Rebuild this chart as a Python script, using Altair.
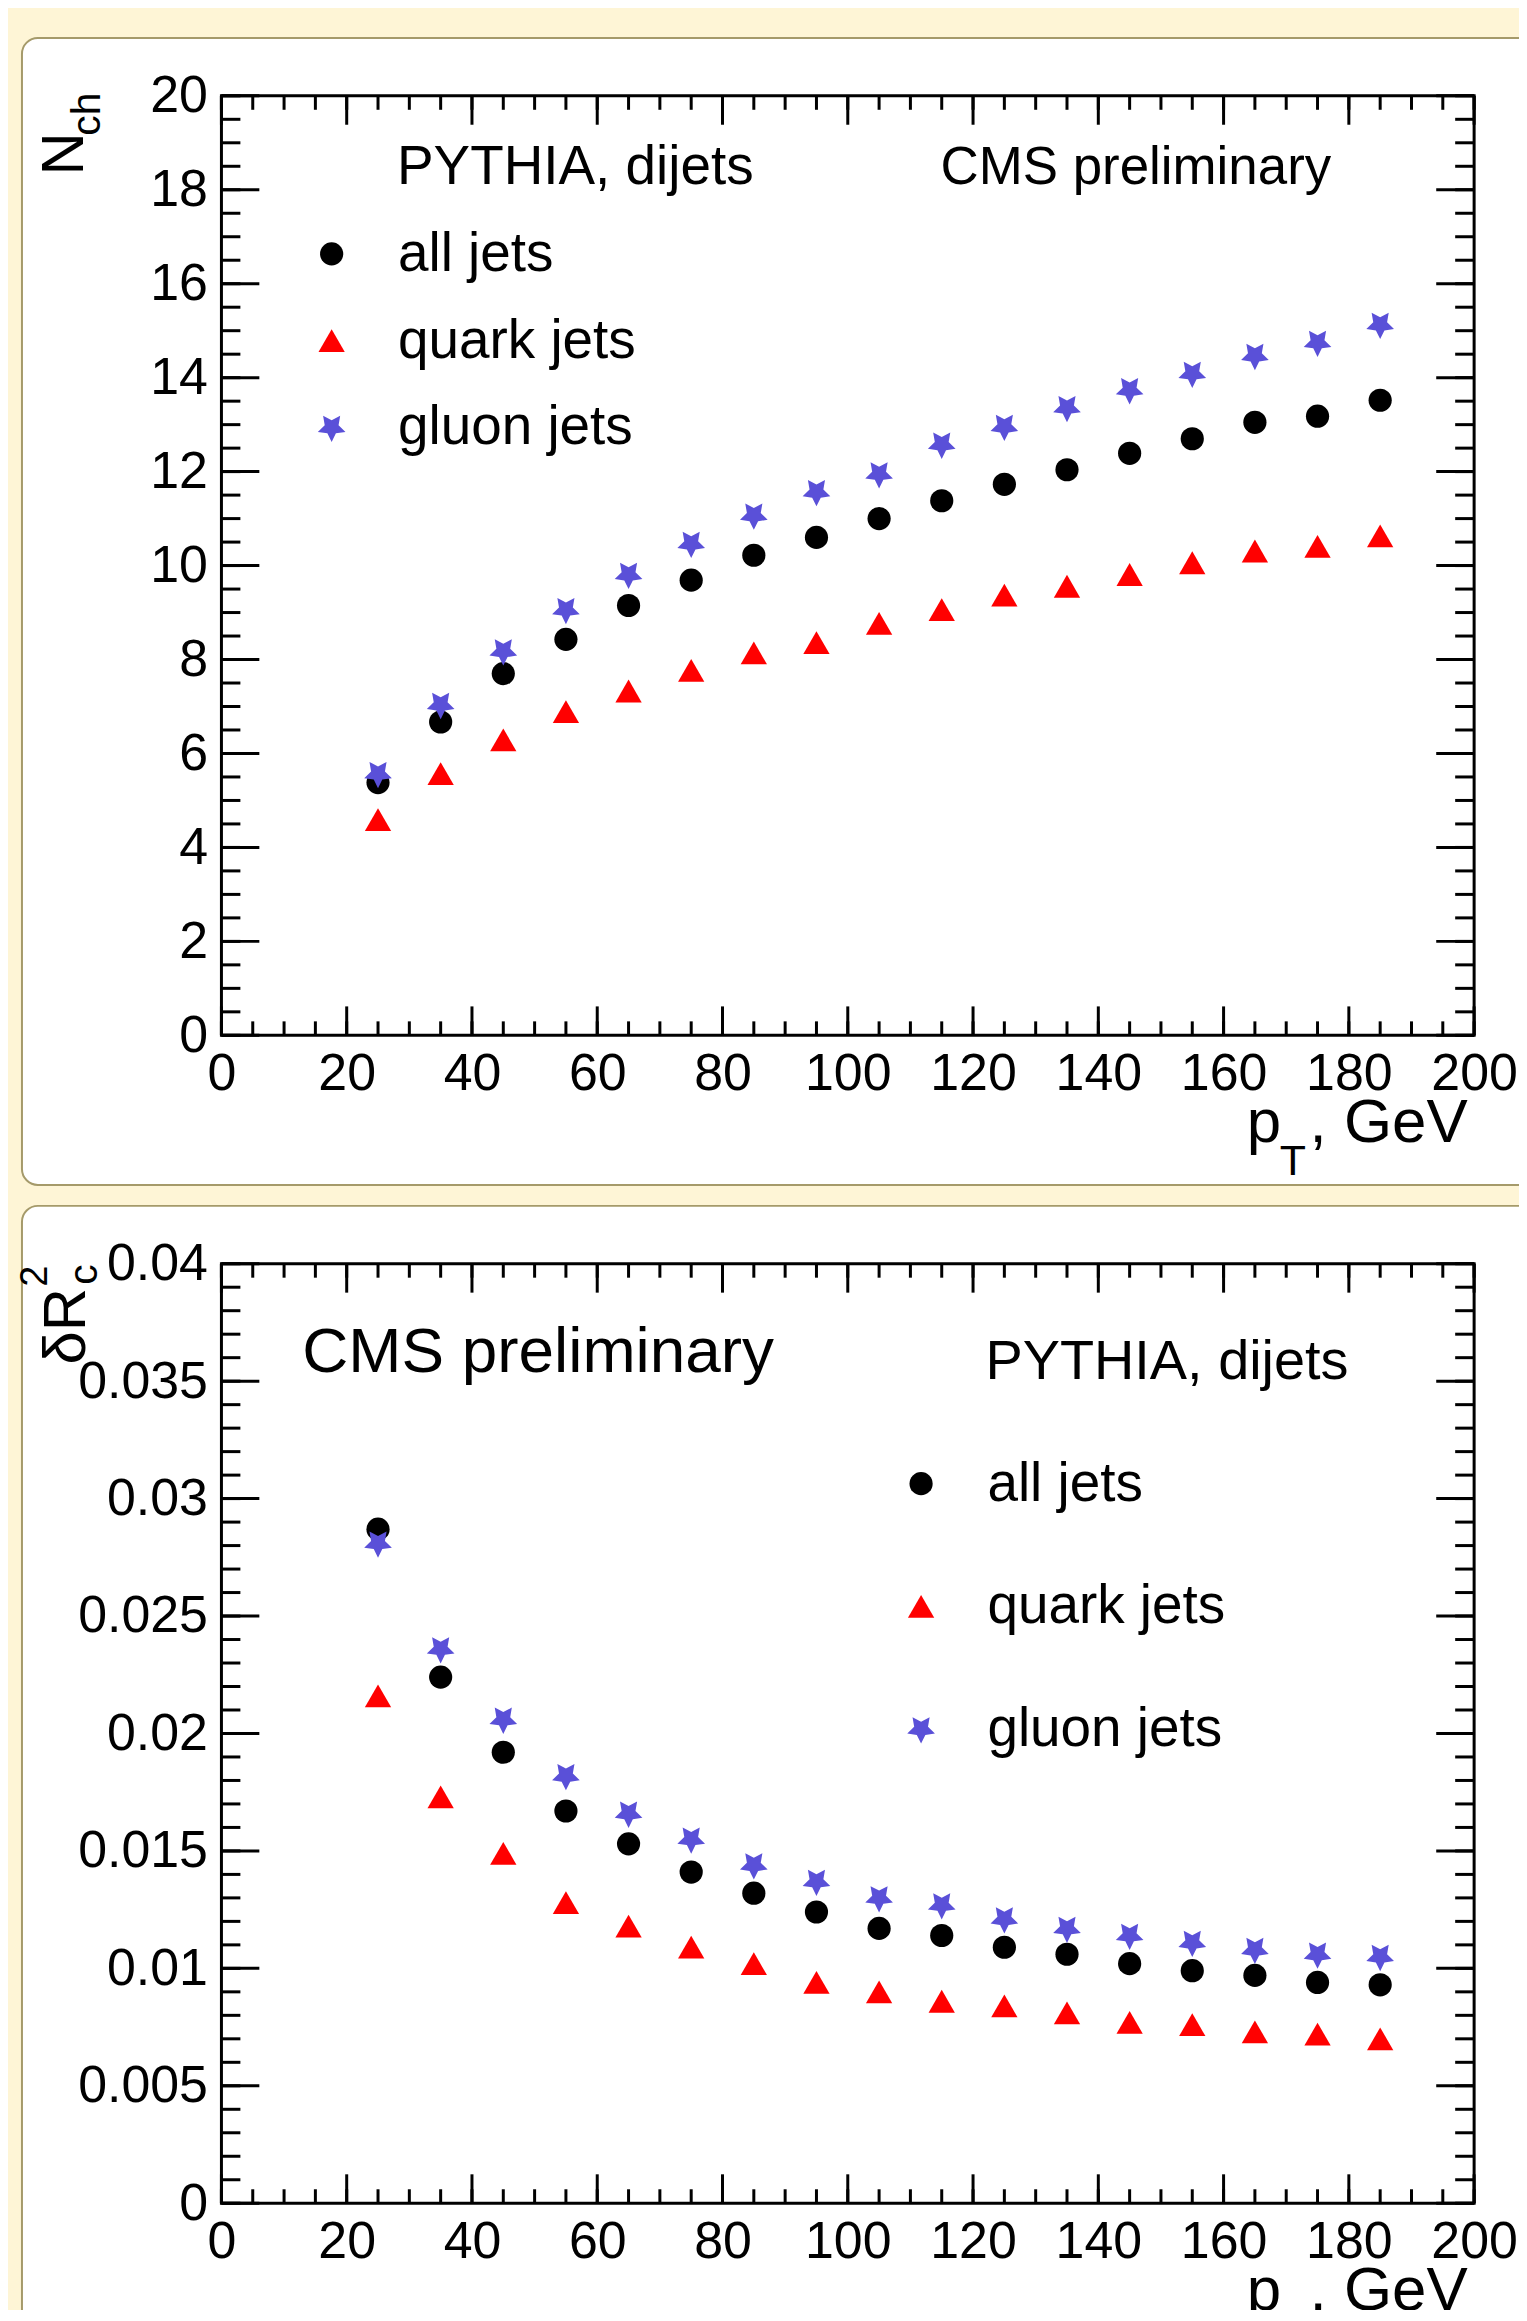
import math
import altair as alt
import pandas as pd

# ---------------- data ----------------
PT = [25, 35, 45, 55, 65, 75, 85, 95, 105, 115, 125, 135, 145, 155, 165, 175, 185]

NCH_ALL = [5.38, 6.67, 7.70, 8.43, 9.15, 9.69, 10.22, 10.60, 11.00, 11.38, 11.73, 12.04, 12.39, 12.70, 13.05, 13.18, 13.52]
NCH_QUARK = [4.59, 5.57, 6.29, 6.89, 7.33, 7.77, 8.14, 8.36, 8.77, 9.06, 9.37, 9.56, 9.81, 10.06, 10.31, 10.41, 10.63]
NCH_GLUON = [5.57, 7.04, 8.18, 9.06, 9.81, 10.47, 11.07, 11.57, 11.95, 12.58, 12.96, 13.36, 13.74, 14.09, 14.47, 14.75, 15.13]

DR_ALL = [0.0287, 0.0224, 0.0192, 0.0167, 0.0153, 0.0141, 0.0132, 0.0124, 0.0117, 0.0114, 0.0109, 0.0106, 0.0102, 0.0099, 0.0097, 0.0094, 0.0093]
DR_QUARK = [0.0216, 0.0173, 0.0149, 0.0128, 0.0118, 0.0109, 0.0102, 0.0094, 0.0090, 0.0086, 0.0084, 0.0081, 0.0077, 0.0076, 0.0073, 0.0072, 0.0070]
DR_GLUON = [0.0281, 0.0236, 0.0206, 0.0182, 0.0166, 0.0155, 0.0144, 0.0137, 0.0130, 0.0127, 0.0121, 0.0117, 0.0114, 0.0111, 0.0108, 0.0106, 0.0105]

SERIES = ["all jets", "quark jets", "gluon jets"]
COLORS = ["#000000", "#ff0000", "#5a50d8"]

X_MAJOR = [0, 20, 40, 60, 80, 100, 120, 140, 160, 180, 200]
X_MINOR = list(range(0, 201, 5))
Y1_MAJOR = [0, 2, 4, 6, 8, 10, 12, 14, 16, 18, 20]
Y1_MINOR = [i * 0.5 for i in range(41)]
Y2_MAJOR = [0, 0.005, 0.01, 0.015, 0.02, 0.025, 0.03, 0.035, 0.04]
Y2_MINOR = [round(i * 0.001, 3) for i in range(41)]

# ---------------- style / layout ----------------
FONT = "Liberation Sans"
BG = "#fef5d6"
PANEL_STROKE = "#a59a6a"
W, H = 1256, 942          # one plot frame
DY = 1171                 # vertical distance between the two frames
HT = DY + H               # total height covered by both frames


def star_path(r_in=0.5):
    pts = []
    for k in range(10):
        ang = math.radians(90 + 36 * k)
        r = 1.0 if k % 2 == 0 else r_in
        pts.append((r * math.cos(ang), r * math.sin(ang)))
    return "M" + "L".join(f"{x:.3f},{y:.3f}" for x, y in pts) + "Z"


SHAPES = ["circle", "triangle-up", star_path()]
SIZES = [540, 850, 1250]

ONE = pd.DataFrame({"k": [0]})


def long_df(a, q, g):
    rows = []
    for name, vals in zip(SERIES, [a, q, g]):
        for x, y in zip(PT, vals):
            rows.append({"x": x, "y": y, "series": name})
    return pd.DataFrame(rows)


def txt(s, x, y, size, angle=0):
    return alt.Chart(ONE).mark_text(
        text=s, align="left", baseline="alphabetic", angle=angle,
        fontSize=size, font=FONT, color="black"
    ).encode(x=alt.value(x), y=alt.value(y))


def panel(df, y0, ydom, ymajor, yminor, yfmt, legend_xy, row_pad, texts):
    xenc = alt.X("x:Q", title=None,
                 scale=alt.Scale(domain=[0, 200], range=[0, W], nice=False, zero=False),
                 axis=alt.Axis(values=X_MAJOR, orient="bottom", offset=(y0 + H) - HT,
                               ticks=False, tickSize=0, domain=False,
                               grid=False, labelFontSize=52, labelFont=FONT,
                               labelColor="black", labelPadding=13, labelFlush=False,
                               labelOverlap=False, zindex=1, format="d"))
    yenc = alt.Y("y:Q", title=None,
                 scale=alt.Scale(domain=ydom, range=[y0 + H, y0], nice=False, zero=False),
                 axis=alt.Axis(values=ymajor, orient="left", ticks=False, tickSize=0,
                               domain=False, grid=False, labelFontSize=52, labelFont=FONT,
                               labelColor="black", labelPadding=14, labelFlush=False,
                               labelOverlap=False, zindex=1, format=yfmt))

    bgrect = alt.Chart(ONE).mark_rect(
        fill="white", stroke=PANEL_STROKE, strokeWidth=2, cornerRadius=16
    ).encode(x=alt.value(-200), x2=alt.value(W + 100),
             y=alt.value(y0 - 58), y2=alt.value(y0 + H + 150))

    ymaj_df = pd.DataFrame({"y": ymajor})
    ymin_df = pd.DataFrame({"y": yminor})
    xmaj_df = pd.DataFrame({"x": X_MAJOR})
    xmin_df = pd.DataFrame({"x": X_MINOR})

    def rule(d):
        return alt.Chart(d).mark_rule(color="black", strokeWidth=3)

    yb = y0 + H
    ticks = [
        rule(ymaj_df).encode(y=yenc, x=alt.value(0), x2=alt.value(38)),
        rule(ymin_df).encode(y=yenc, x=alt.value(0), x2=alt.value(19)),
        rule(ymaj_df).encode(y=yenc, x=alt.value(W - 38), x2=alt.value(W)),
        rule(ymin_df).encode(y=yenc, x=alt.value(W - 19), x2=alt.value(W)),
        rule(xmaj_df).encode(x=xenc, y=alt.value(yb - 29), y2=alt.value(yb)),
        rule(xmin_df).encode(x=xenc, y=alt.value(yb - 14), y2=alt.value(yb)),
        rule(xmaj_df).encode(x=xenc, y=alt.value(y0), y2=alt.value(y0 + 29)),
        rule(xmin_df).encode(x=xenc, y=alt.value(y0), y2=alt.value(y0 + 14)),
    ]

    frame_df = pd.DataFrame({"x": [0], "x2": [200], "y": [ydom[0]], "y2": [ydom[1]]})
    frame = alt.Chart(frame_df).mark_rect(
        fillOpacity=0, stroke="black", strokeWidth=3
    ).encode(x=xenc, x2="x2:Q", y=yenc, y2="y2:Q")

    leg = alt.Legend(orient="none", legendX=legend_xy[0], legendY=legend_xy[1],
                     title=None, labelFontSize=55, labelFont=FONT, labelColor="black",
                     labelOffset=39, rowPadding=row_pad, labelLimit=1000, padding=0,
                     symbolStrokeWidth=0, symbolOpacity=1, zindex=1)

    points = alt.Chart(df).mark_point(filled=True, opacity=1, strokeWidth=0).encode(
        x=xenc, y=yenc,
        color=alt.Color("series:N", scale=alt.Scale(domain=SERIES, range=COLORS), legend=leg),
        shape=alt.Shape("series:N", scale=alt.Scale(domain=SERIES, range=SHAPES), legend=leg),
        size=alt.Size("series:N", scale=alt.Scale(domain=SERIES, range=SIZES), legend=leg),
    )

    return alt.layer(bgrect, *ticks, frame, points, *texts)


top_texts = [
    txt("PYTHIA, dijets", 176, 88, 55),
    txt("CMS preliminary", 721, 88, 53),
    txt("N", -139, 80, 60, angle=270),
    txt("ch", -122, 40, 41, angle=270),
    txt("p", 1028, H + 107, 62),
    txt("T", 1061, H + 140, 43),
    txt(", GeV", 1091, H + 107, 62),
]

bottom_texts = [
    txt("CMS preliminary", 81, DY + 109, 64),
    txt("PYTHIA, dijets", 766, DY + 116, 56),
    txt("δR", -137, DY + 101, 60, angle=270),
    txt("c", -125, DY + 21, 41, angle=270),
    txt("2", -175, DY + 23, 38, angle=270),
    txt("p", 1028, DY + H + 107, 62),
    txt("T", 1061, DY + H + 140, 43),
    txt(", GeV", 1091, DY + H + 107, 62),
]

top = panel(long_df(NCH_ALL, NCH_QUARK, NCH_GLUON), 0, [0, 20], Y1_MAJOR, Y1_MINOR,
            "d", (83, 131), 31, top_texts)
bottom = panel(long_df(DR_ALL, DR_QUARK, DR_GLUON), DY, [0, 0.04], Y2_MAJOR, Y2_MINOR,
               ".3~f", (674, DY + 193), 67, bottom_texts)

chart = alt.layer(top, bottom).resolve_scale(
    x="independent", y="independent",
    color="independent", shape="independent", size="independent"
).resolve_axis(x="independent", y="independent").resolve_legend(
    color="independent", shape="independent", size="independent"
).properties(
    width=W, height=HT,
    background=BG,
    autosize=alt.AutoSizeParams(type="none"),
    padding={"left": 214, "top": 85, "right": 45, "bottom": 104},
).configure_view(strokeOpacity=0)

chart.save("out.html", embed_options={"renderer": "svg", "actions": False})
